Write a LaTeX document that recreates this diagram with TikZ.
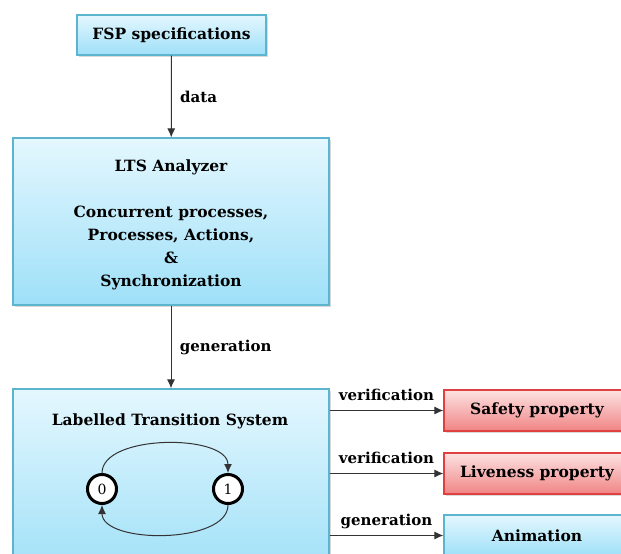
\documentclass[tikz,border=0pt]{standalone}
\usepackage{fontspec}
\setmainfont{DejaVu Serif}
\usetikzlibrary{shapes,arrows,arrows.meta,positioning,calc,shadows}
\definecolor{boxtop}{RGB}{228,247,254}
\definecolor{boxbot}{RGB}{158,224,248}
\definecolor{boxline}{RGB}{92,180,206}
\definecolor{redtop}{RGB}{253,226,226}
\definecolor{redbot}{RGB}{240,132,132}
\definecolor{redline}{RGB}{224,64,64}

\begin{document}
\begin{tikzpicture}[x=1pt, y=-1pt,
    bluebox/.style={rectangle, draw=boxline, line width=1.2pt, top color=boxtop, bottom color=boxbot, align=center,
        drop shadow={shadow xshift=2pt, shadow yshift=-2pt, opacity=0.3}},
    redbox/.style={rectangle, draw=redline, line width=1.2pt, top color=redtop, bottom color=redbot, align=center,
        drop shadow={shadow xshift=2pt, shadow yshift=-2pt, opacity=0.3}},
    txt/.style={font=\fontsize{15.5}{23}\selectfont\bfseries},
    state/.style={circle, draw=black, line width=3pt, fill=white, minimum size=29pt, inner sep=0pt, font=\fontsize{14}{16}\selectfont},
    flow/.style={-{Latex[length=9pt, width=8pt]}, draw=black!80, line width=1pt},
    lbl/.style={font=\fontsize{15}{18}\selectfont\bfseries}
]
\useasboundingbox (0,0) rectangle (621,554);
\clip (0,0) rectangle (621,554);

% Top
\node[bluebox, txt, minimum width=189pt, minimum height=40pt] (fsp) at (171.5,35) {FSP specifications};

\node[bluebox, txt, minimum width=316pt, minimum height=167pt] (analyzer) at (171,221.5)
    {\rule{0pt}{19pt}LTS Analyzer\\[23pt]Concurrent processes,\\Processes, Actions,\\\&\\Synchronization};

% LTS
\node[bluebox, minimum width=316pt, minimum height=190pt] (lts) at (171,484) {};
\node[txt] (ltstitle) at (170,421) {Labelled Transition System};
\node[state] (s0) at (102,489) {0};
\node[state] (s1) at (228,489) {1};

% Results
\node[redbox, txt, minimum width=186pt, minimum height=41pt] (safety) at (537,410.5) {Safety property};
\node[redbox, txt, minimum width=186pt, minimum height=41pt] (liveness) at (537,473.5) {Liveness property};
\node[bluebox, txt, minimum width=186pt, minimum height=41pt] (anim) at (537,535.5) {Animation};

% Connectors
\draw[flow] (fsp) -- node[lbl, right=5pt] {data} (analyzer);
\draw[flow] (analyzer) -- node[lbl, right=5pt] {generation} (lts);
\draw[flow] (lts.east |- safety.west) -- node[lbl, above=6pt] {verification} (safety.west);
\draw[flow] (lts.east |- liveness.west) -- node[lbl, above=6pt] {verification} (liveness.west);
\draw[flow] (lts.east |- anim.west) -- node[lbl, above=3pt] {generation} (anim.west);

\draw[flow] (s0.north) to[out=90, in=90, looseness=0.8] (s1.north);
\draw[flow] (s1.south) to[out=-90, in=-90, looseness=0.8] (s0.south);

\end{tikzpicture}
\end{document}
